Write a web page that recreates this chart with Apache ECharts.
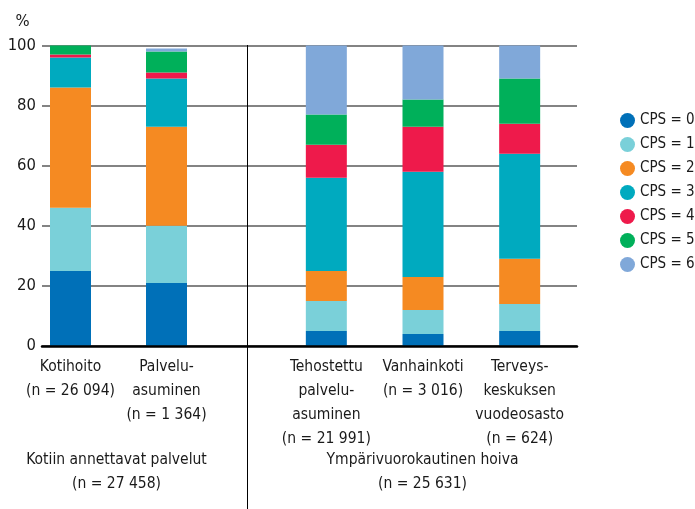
<!DOCTYPE html>
<html>
<head>
<meta charset="utf-8">
<script src="https://cdn.jsdelivr.net/npm/echarts@6/dist/echarts.min.js"></script>
<style>
  html, body { margin: 0; padding: 0; background: #fff; }
  #chart { width: 695px; height: 509px; }
</style>
</head>
<body>
<div id="chart"></div>
<script>
// Share of clients by CPS score (%) in home care and round-the-clock care
const leftCategories = ['Kotihoito\n(n = 26 094)', 'Palvelu-\nasuminen\n(n = 1 364)'];
const rightCategories = ['Tehostettu\npalvelu-\nasuminen\n(n = 21 991)', 'Vanhainkoti\n(n = 3 016)', 'Terveys-\nkeskuksen\nvuodeosasto\n(n = 624)'];
const groupLabels = ['Kotiin annettavat palvelut\n(n = 27 458)', 'Ympärivuorokautinen hoiva\n(n = 25 631)'];
const cpsLevels = ['CPS = 0', 'CPS = 1', 'CPS = 2', 'CPS = 3', 'CPS = 4', 'CPS = 5', 'CPS = 6'];
const yTicks = [0, 20, 40, 60, 80, 100];

// values per CPS level, in order: Kotihoito, Palveluasuminen, Tehostettu, Vanhainkoti, Terveyskeskus
const cps0 = [25, 21, 5, 4, 5];
const cps1 = [21, 19, 10, 8, 9];
const cps2 = [40, 33, 10, 11, 15];
const cps3 = [10, 16, 31, 35, 35];
const cps4 = [1, 2, 11, 15, 10];
const cps5 = [3, 7, 10, 9, 15];
const cps6 = [0, 1, 23, 18, 11];
const cpsValues = [cps0, cps1, cps2, cps3, cps4, cps5, cps6];

const colors = ['#0070b8', '#7ad0d9', '#f58a22', '#00aabf', '#ee1a4b', '#00b05a', '#80a8d9'];
const FONT = '"Liberation Sans Narrow", "DejaVu Sans Condensed", "Roboto", sans-serif';
const TEXT = '#1a1a1a';

const chart = echarts.init(document.getElementById('chart'), null, { renderer: 'canvas' });

const gridTop = 45.5, gridBottom = 163;
const yBase = { min: 0, max: 100, interval: 20 };

// bars live on their own layer so the gridlines stay behind them
const series = [];
cpsLevels.forEach((name, i) => {
  const vals = cpsValues[i];
  series.push({
    name, type: 'bar', stack: 'left', xAxisIndex: 1, yAxisIndex: 1, zlevel: 1, z: 2,
    barWidth: 41, itemStyle: { color: colors[i] },
    data: vals.slice(0, leftCategories.length)
  });
  series.push({
    name, type: 'bar', stack: 'right', xAxisIndex: 2, yAxisIndex: 2, zlevel: 1, z: 2,
    barWidth: 41, itemStyle: { color: colors[i] },
    data: vals.slice(leftCategories.length)
  });
});

const hiddenY = (gi) => Object.assign({
  type: 'value', gridIndex: gi, show: false, splitLine: { show: false }
}, yBase);

const catAxis = (gi, data) => ({
  type: 'category', gridIndex: gi, data,
  axisLine: { show: false }, axisTick: { show: false }, splitLine: { show: false },
  axisLabel: {
    interval: 0, margin: 9, color: TEXT, fontFamily: FONT, fontSize: 15.5, lineHeight: 24
  }
});

chart.setOption({
  animation: false,
  color: colors,
  grid: [
    { left: 42, right: 118, top: gridTop, bottom: gridBottom },
    { left: 22.5, width: 192, top: gridTop, bottom: gridBottom },
    { left: 278, width: 290, top: gridTop, bottom: gridBottom }
  ],
  xAxis: [
    {
      type: 'value', gridIndex: 0, min: 0, max: 1, zlevel: 1, z: 5,
      axisLine: { show: true, onZero: false, lineStyle: { color: '#000', width: 2.5 } },
      axisTick: { show: false }, axisLabel: { show: false }, splitLine: { show: false }
    },
    catAxis(1, leftCategories),
    catAxis(2, rightCategories)
  ],
  yAxis: [
    Object.assign({
      type: 'value', gridIndex: 0,
      axisLine: { show: false }, axisTick: { show: false },
      axisLabel: {
        margin: 6, color: TEXT, fontFamily: FONT, fontSize: 16.5,
        formatter: v => (yTicks.indexOf(v) >= 0 ? String(v) : '')
      },
      splitLine: { show: true, lineStyle: { color: '#5a5a5a', width: 1.5 } }
    }, yBase),
    hiddenY(1),
    hiddenY(2)
  ],
  legend: {
    orient: 'vertical', left: 620, top: 113, padding: 0,
    itemWidth: 15, itemHeight: 15, itemGap: 9, icon: 'circle',
    textStyle: { color: TEXT, fontFamily: FONT, fontSize: 15 },
    data: cpsLevels
  },
  graphic: [
    {
      type: 'line', silent: true, z: 5,
      shape: { x1: 247.5, y1: 45, x2: 247.5, y2: 509 },
      style: { stroke: '#000', lineWidth: 1 }
    },
    {
      type: 'text', x: 22.5, y: 22, silent: true,
      style: { text: '%', fill: TEXT, font: '16.5px ' + FONT, textAlign: 'center', textVerticalAlign: 'middle' }
    },
    {
      type: 'text', x: 116.5, y: 448, silent: true,
      style: { text: groupLabels[0], fill: TEXT, font: '15.5px ' + FONT, lineHeight: 24, textAlign: 'center' }
    },
    {
      type: 'text', x: 422.5, y: 448, silent: true,
      style: { text: groupLabels[1], fill: TEXT, font: '15.5px ' + FONT, lineHeight: 24, textAlign: 'center' }
    }
  ],
  series
});
</script>
</body>
</html>
